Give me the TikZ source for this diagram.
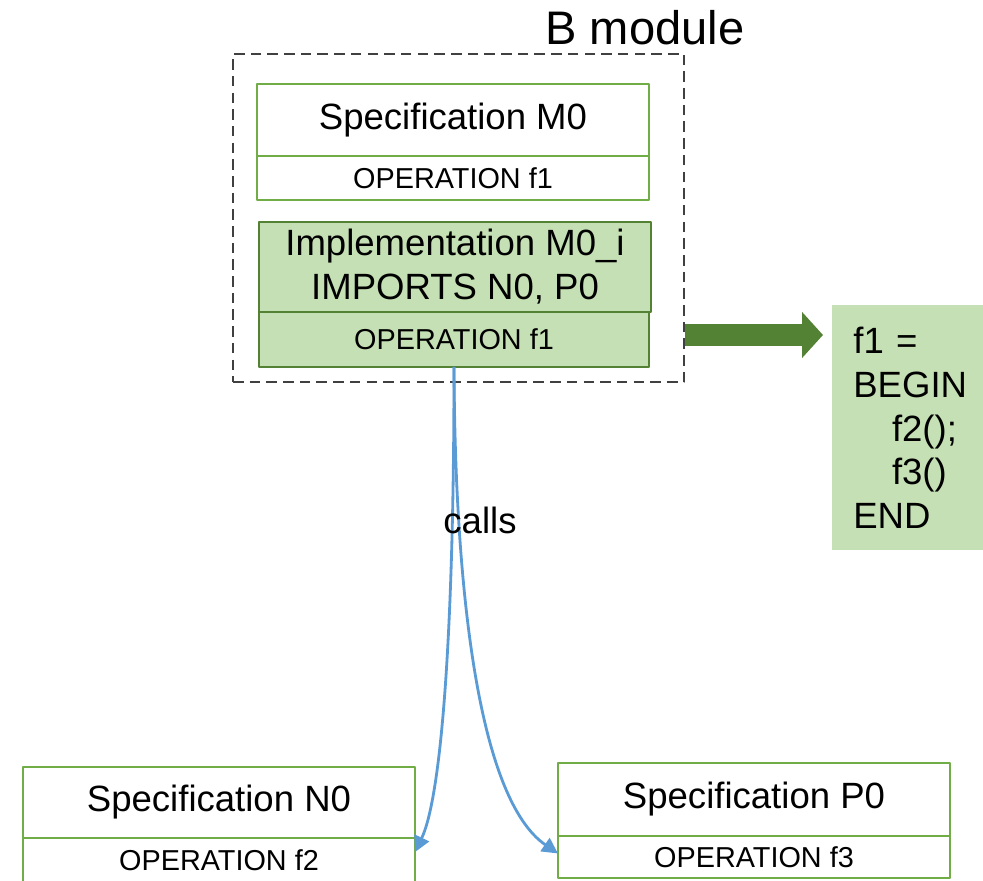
\documentclass[tikz,border=0pt]{standalone}
\usepackage{fontspec}
\setmainfont{Liberation Sans}
\usetikzlibrary{arrows.meta}
\definecolor{boxgreen}{HTML}{70AD47}
\definecolor{darkgreen}{HTML}{548235}
\definecolor{lightgreen}{HTML}{C5E0B4}
\definecolor{callblue}{HTML}{5B9BD5}
\definecolor{dashgray}{HTML}{404040}
\newcommand{\px}{0.02cm}
\newcommand{\bigtext}{\fontsize{20.8}{25}\selectfont}
\newcommand{\smalltext}{\fontsize{16.4}{19}\selectfont}
\begin{document}
\begin{tikzpicture}[x=\px, y=-\px, line join=round,
	cell/.style={draw=boxgreen, line width=1.5pt, fill=white, minimum width=392*\px, inner sep=0pt, outer sep=0pt, align=center},
	implcell/.style={cell, draw=darkgreen, fill=lightgreen},
	titletext/.style={font=\bigtext},
	optext/.style={font=\smalltext},
	callarrow/.style={draw=callblue, line width=1.6pt, -{Triangle[length=9pt, width=9pt]}}]
	\useasboundingbox (0,0) rectangle (983,881);
	
	% B module frame
	\node[draw=dashgray, dash pattern=on 6pt off 3.5pt, line width=1.5pt, minimum width=451*\px, minimum height=328*\px, inner sep=0pt] (bmod) at (458.5,218) {};
	\node[font=\fontsize{26.8}{32}\selectfont, anchor=base] (btitle) at (645,45) {B module};
	
	% Specification M0
	\node[cell, titletext, minimum height=72*\px] (m0) at (453,120) {Specification M0};
	\node[cell, optext, minimum height=44*\px] (m0op) at (453,178) {OPERATION f1};
	
	% Implementation M0_i
	\node[implcell, titletext, minimum height=90*\px] (impl) at (455,267) {Implementation M0\_i\\IMPORTS N0, P0};
	\node[implcell, optext, minimum width=390*\px, minimum height=55*\px] (implop) at (454,339.5) {OPERATION f1};
	
	% body of f1
	\node[fill=lightgreen, anchor=north west, font=\bigtext, align=left, text width=118*\px, inner xsep=21*\px, minimum height=245*\px] (code) at (832,305)
		{f1 =\\BEGIN\\\hspace*{22pt}f2();\\\hspace*{22pt}f3()\\END};
	
	% Specification N0 and P0
	\node[cell, titletext, minimum height=71*\px] (n0) at (219,802.5) {Specification N0};
	\node[cell, optext, minimum height=44*\px] (n0op) at (219,860) {OPERATION f2};
	\node[cell, titletext, minimum height=73*\px] (p0) at (754,799.5) {Specification P0};
	\node[cell, optext, minimum height=42*\px] (p0op) at (754,857) {OPERATION f3};
	
	% big arrow to the code
	\coordinate (arrowy) at (0,335);
	\draw[darkgreen, line width=22*\px, -{Triangle[length=21*\px, width=45*\px]}, shorten >=9*\px] (bmod.east |- arrowy) -- (code.west |- arrowy);
	
	% calls
	\draw[callarrow] (implop.south) .. controls (454,650) and (440,800) .. ([yshift=4.5pt]n0op.east);
	\draw[callarrow] (implop.south) .. controls (455,600) and (480,800) .. ([yshift=2pt]p0op.west);
	\node[titletext] (callslbl) at (480,520) {calls};
\end{tikzpicture}
\end{document}
